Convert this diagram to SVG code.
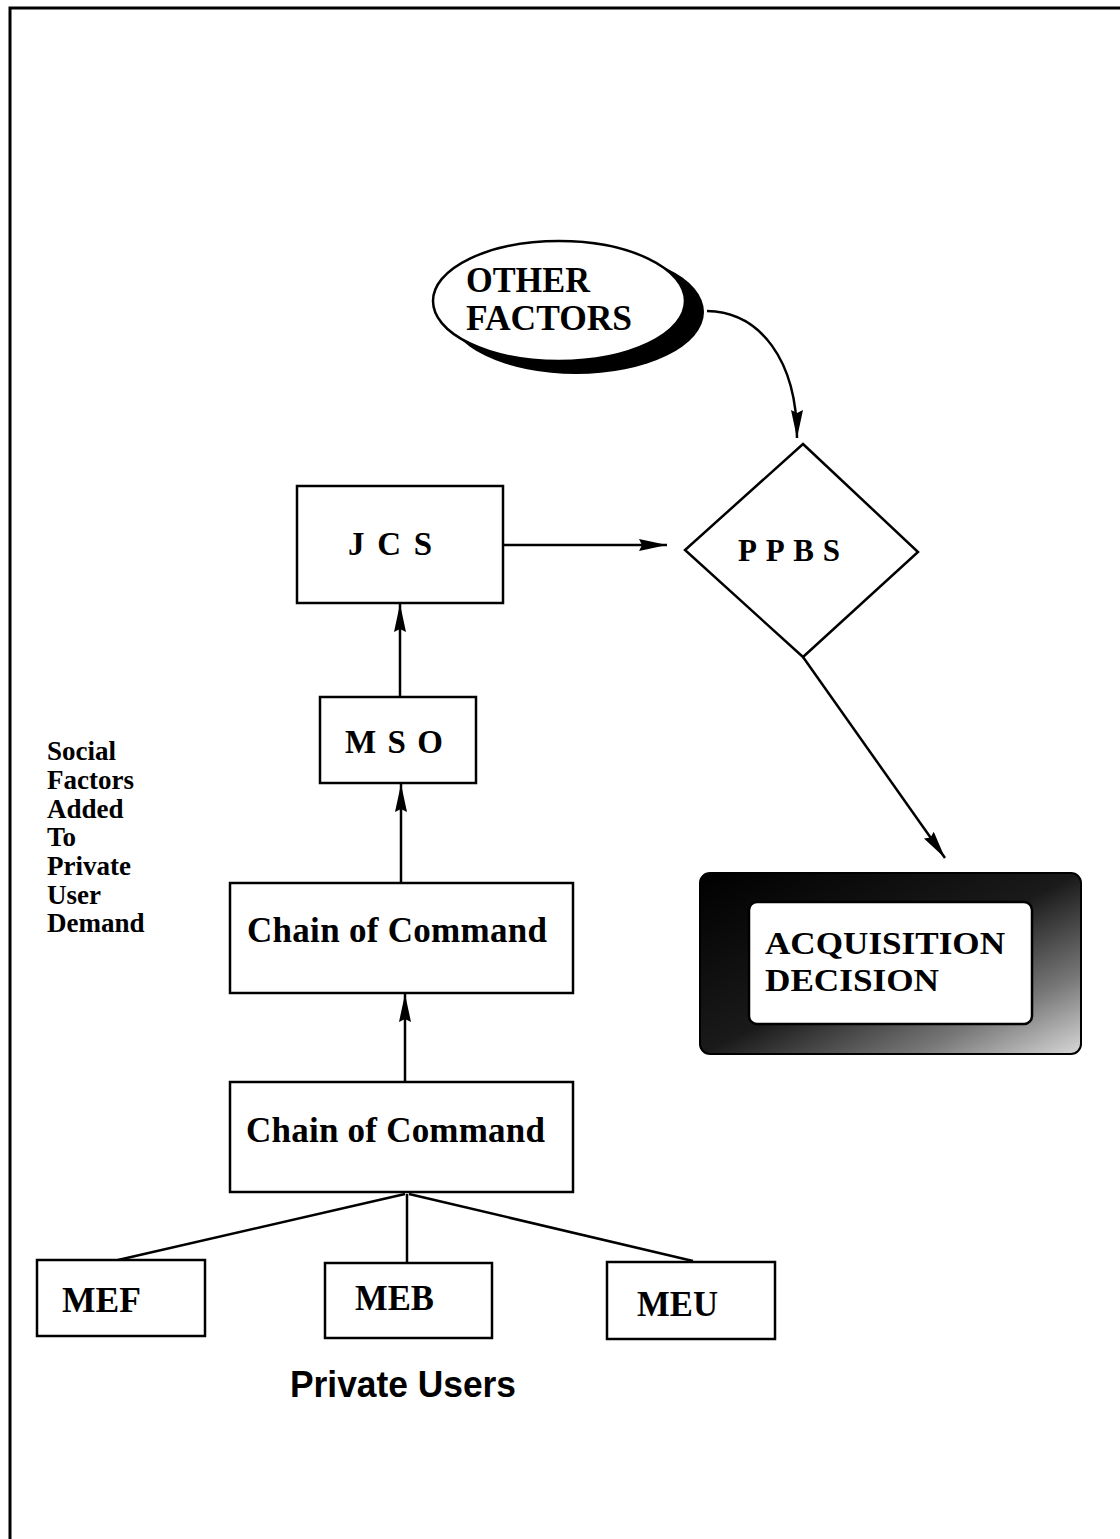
<svg xmlns="http://www.w3.org/2000/svg" width="1120" height="1539" viewBox="0 0 1120 1539">
<style>
.box{fill:#fff;stroke:#000;stroke-width:2.5}
.ser{font-family:"Liberation Serif","Times New Roman",serif;font-weight:bold;fill:#000}
.san{font-family:"Liberation Sans",Arial,sans-serif;font-weight:bold;fill:#000}
.ln{fill:none;stroke:#000;stroke-width:2.5}
</style>
<defs>
<marker id="ah" markerUnits="userSpaceOnUse" markerWidth="30" markerHeight="16" refX="28" refY="6" orient="auto">
<path d="M0,0 L28,6 L0,12 L3,6 Z" fill="#000"/>
</marker>
<linearGradient id="frame" x1="0" y1="0" x2="1" y2="1">
<stop offset="0" stop-color="#000"/>
<stop offset="0.5" stop-color="#1a1a1a"/>
<stop offset="0.78" stop-color="#777"/>
<stop offset="1" stop-color="#d8d8d8"/>
</linearGradient>
</defs>
<rect width="1120" height="1539" fill="#fff"/>
<path d="M10,1539 L10,8 L1120,8" fill="none" stroke="#000" stroke-width="3"/>

<g id="connectors">
<path class="ln" d="M707,311 C760,312 797,360 797,438" marker-end="url(#ah)"/>
<path class="ln" d="M503,545 L667,545" marker-end="url(#ah)"/>
<path class="ln" d="M400,697 L400,604" marker-end="url(#ah)"/>
<path class="ln" d="M401,883 L401,784" marker-end="url(#ah)"/>
<path class="ln" d="M405,1082 L405,994" marker-end="url(#ah)"/>
<path class="ln" d="M803,657 L945,858" marker-end="url(#ah)"/>
<path class="ln" d="M405,1194 L118,1260"/>
<path class="ln" d="M407,1194 L407,1263"/>
<path class="ln" d="M409,1194 L693,1261"/>
</g>

<g id="other-factors">
<ellipse cx="576" cy="312" rx="128" ry="62" fill="#000"/>
<ellipse cx="559" cy="301" rx="126" ry="60" fill="#fff" stroke="#000" stroke-width="2.5"/>
<text class="ser" x="466" y="292" font-size="36" textLength="124" lengthAdjust="spacingAndGlyphs">OTHER</text>
<text class="ser" x="466" y="330" font-size="36" textLength="166" lengthAdjust="spacingAndGlyphs">FACTORS</text>
</g>

<g id="ppbs">
<polygon points="803,444 918,552 803,657 685,550" class="box"/>
<text class="ser" x="738" y="561" font-size="31" letter-spacing="10" textLength="112">PPBS</text>
</g>

<g id="jcs">
<rect class="box" x="297" y="486" width="206" height="117"/>
<text class="ser" x="348" y="555" font-size="33" textLength="84">JCS</text>
</g>

<g id="mso">
<rect class="box" x="320" y="697" width="156" height="86"/>
<text class="ser" x="345" y="753" font-size="33" textLength="98">MSO</text>
</g>

<g id="social-factors">
<text class="ser" font-size="27" x="47" y="760">Social</text>
<text class="ser" font-size="27" x="47" y="789">Factors</text>
<text class="ser" font-size="27" x="47" y="818">Added</text>
<text class="ser" font-size="27" x="47" y="846">To</text>
<text class="ser" font-size="27" x="47" y="875">Private</text>
<text class="ser" font-size="27" x="47" y="904">User</text>
<text class="ser" font-size="27" x="47" y="932">Demand</text>
</g>

<g id="chain-upper">
<rect class="box" x="230" y="883" width="343" height="110"/>
<text class="ser" x="247" y="942" font-size="35" textLength="300">Chain of Command</text>
</g>

<g id="chain-lower">
<rect class="box" x="230" y="1082" width="343" height="110"/>
<text class="ser" x="246" y="1142" font-size="35" textLength="299">Chain of Command</text>
</g>

<g id="acquisition">
<rect x="700" y="873" width="381" height="181" rx="10" fill="url(#frame)" stroke="#000" stroke-width="2"/>
<rect x="749" y="902" width="283" height="122" rx="8" fill="#fff" stroke="#000" stroke-width="2.5"/>
<text class="ser" x="765" y="954" font-size="31" textLength="240" lengthAdjust="spacingAndGlyphs">ACQUISITION</text>
<text class="ser" x="765" y="991" font-size="31" textLength="174" lengthAdjust="spacingAndGlyphs">DECISION</text>
</g>

<g id="mef">
<rect class="box" x="37" y="1260" width="168" height="76"/>
<text class="ser" x="62" y="1312" font-size="36" textLength="79" lengthAdjust="spacingAndGlyphs">MEF</text>
</g>
<g id="meb">
<rect class="box" x="325" y="1263" width="167" height="75"/>
<text class="ser" x="355" y="1310" font-size="36" textLength="79" lengthAdjust="spacingAndGlyphs">MEB</text>
</g>
<g id="meu">
<rect class="box" x="607" y="1262" width="168" height="77"/>
<text class="ser" x="637" y="1316" font-size="36" textLength="81" lengthAdjust="spacingAndGlyphs">MEU</text>
</g>

<text id="private-users" class="san" x="290" y="1397" font-size="36" textLength="226" lengthAdjust="spacingAndGlyphs">Private Users</text>
</svg>
